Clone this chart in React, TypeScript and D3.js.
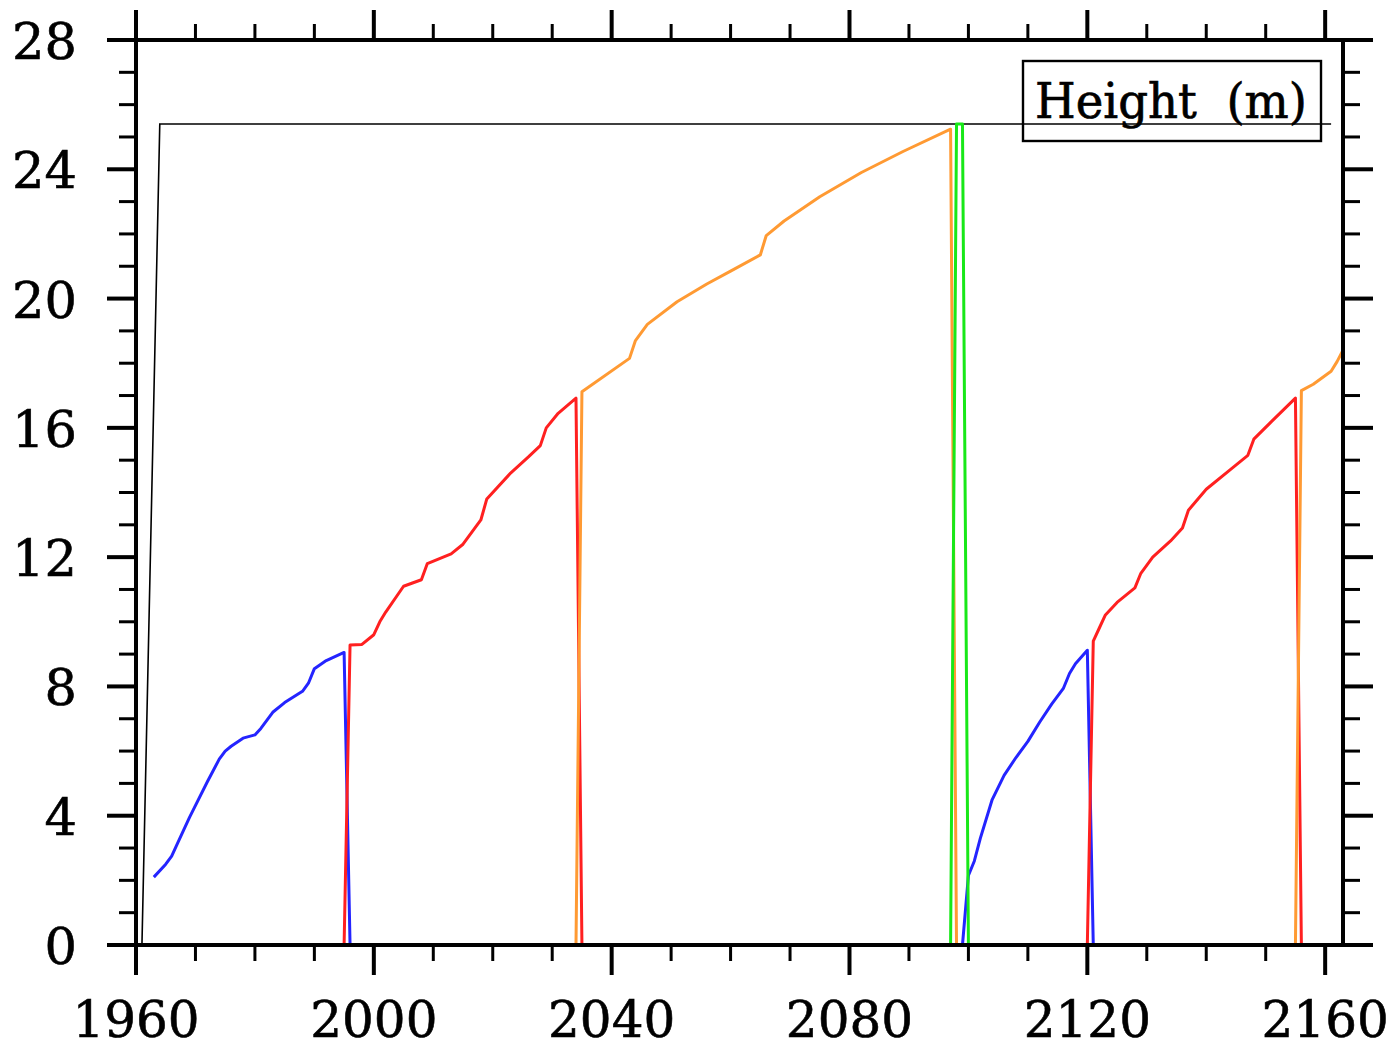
import * as d3 from "d3";

const width = 1400;
const height = 1050;

// [year, height (m)]
const maxLine: [number, number][] = [[1961, 0], [1964, 25.4], [2161, 25.4]];

const blue1: [number, number][] = [
  [1963, 2.1], [1965, 2.5], [1966, 2.75], [1967, 3.15], [1969, 3.95], [1972, 5.05],
  [1974, 5.75], [1975, 6.0], [1976, 6.15], [1978, 6.4], [1980, 6.5], [1981, 6.7], [1983, 7.2],
  [1985, 7.5], [1988, 7.85], [1989, 8.1], [1990, 8.55], [1992, 8.8], [1995, 9.05], [1996, 0],
];

const red1: [number, number][] = [
  [1995, 0], [1996, 9.28], [1998, 9.3], [2000, 9.6], [2001, 10.0], [2002, 10.3],
  [2005, 11.1], [2008, 11.3], [2009, 11.8], [2013, 12.1], [2015, 12.4], [2018, 13.15],
  [2019, 13.8], [2023, 14.6], [2026, 15.1], [2028, 15.45], [2029, 16.0], [2031, 16.45],
  [2034, 16.92], [2035, 0],
];

const orange1: [number, number][] = [
  [2034, 0], [2035, 17.12], [2043, 18.15], [2044, 18.7], [2046, 19.2], [2051, 19.9],
  [2056, 20.45], [2060, 20.85], [2065, 21.35], [2066, 21.95], [2069, 22.4], [2075, 23.15],
  [2082, 23.9], [2089, 24.55], [2097, 25.24], [2098, 0],
];

const green1: [number, number][] = [[2097, 0], [2098, 25.4], [2099, 25.4], [2100, 0]];

const blue2: [number, number][] = [
  [2099, 0], [2100, 2.15], [2101, 2.6], [2102, 3.3], [2104, 4.5], [2106, 5.25],
  [2108, 5.8], [2110, 6.3], [2112, 6.9], [2114, 7.45], [2116, 7.95], [2117, 8.4],
  [2118, 8.7], [2120, 9.12], [2121, 0],
];

const red2: [number, number][] = [
  [2120, 0], [2121, 9.4], [2122, 9.8], [2123, 10.2], [2125, 10.6], [2128, 11.05],
  [2129, 11.5], [2131, 12.0], [2134, 12.5], [2136, 12.9], [2137, 13.45], [2140, 14.1],
  [2144, 14.7], [2147, 15.15], [2148, 15.65], [2151, 16.2], [2155, 16.92], [2156, 0],
];

const orange2: [number, number][] = [
  [2155, 0], [2156, 17.15], [2158, 17.35], [2161, 17.75], [2162, 18.05], [2163, 18.4],
];

const xMajorTicks = [1960, 2000, 2040, 2080, 2120, 2160];
const yMajorTicks = [0, 4, 8, 12, 16, 20, 24, 28];

const series = [
  { data: blue1, color: "#2424ff" },
  { data: red1, color: "#ff2020" },
  { data: orange1, color: "#ff9a33" },
  { data: blue2, color: "#2424ff" },
  { data: red2, color: "#ff2020" },
  { data: orange2, color: "#ff9a33" },
  { data: green1, color: "#18e818" },
];

const left = 136, right = 1343, top = 40, bottom = 945;

const App = () => {
  const x = d3.scaleLinear().domain([1960, 2163]).range([left, right]);
  const y = d3.scaleLinear().domain([0, 28]).range([bottom, top]);
  const line = d3.line<[number, number]>().x(d => x(d[0])).y(d => y(d[1]));

  const xMinor = d3.range(1960, 2164, 10).filter(v => !xMajorTicks.includes(v));
  const yMinor = d3.range(0, 29, 1).filter(v => !yMajorTicks.includes(v));
  const font = "'DejaVu Serif', serif";

  return (
    <svg width={width} height={height} style={{ position: "absolute", left: 0, top: 0, background: "#fff" }}>
      <path d={line(maxLine) || ""} fill="none" stroke="#000" strokeWidth={1.6} />
      {series.map((s, i) => (
        <path key={i} d={line(s.data) || ""} fill="none" stroke={s.color} strokeWidth={3} strokeLinejoin="round" />
      ))}

      {/* legend */}
      <rect x={1023} y={61} width={298} height={80} fill="none" stroke="#000" strokeWidth={2.4} />
      <text x={1035} y={118} fontFamily={font} fontSize={49} textLength={272} lengthAdjust="spacingAndGlyphs"
        stroke="#000" strokeWidth={0.7} style={{ whiteSpace: "pre" }}>Height  (m)</text>

      {/* ticks */}
      <g stroke="#000">
        {xMajorTicks.map(v => (
          <g key={"xm" + v} strokeWidth={4}>
            <line x1={x(v)} x2={x(v)} y1={bottom} y2={bottom + 30} />
            <line x1={x(v)} x2={x(v)} y1={top} y2={top - 30} />
          </g>
        ))}
        {xMinor.map(v => (
          <g key={"xn" + v} strokeWidth={3}>
            <line x1={x(v)} x2={x(v)} y1={bottom} y2={bottom + 16} />
            <line x1={x(v)} x2={x(v)} y1={top} y2={top - 16} />
          </g>
        ))}
        {yMajorTicks.map(v => (
          <g key={"ym" + v} strokeWidth={4}>
            <line x1={left} x2={left - 29} y1={y(v)} y2={y(v)} />
            <line x1={right} x2={right + 30} y1={y(v)} y2={y(v)} />
          </g>
        ))}
        {yMinor.map(v => (
          <g key={"yn" + v} strokeWidth={3}>
            <line x1={left} x2={left - 17} y1={y(v)} y2={y(v)} />
            <line x1={right} x2={right + 17} y1={y(v)} y2={y(v)} />
          </g>
        ))}
      </g>
      <rect x={left} y={top} width={right - left} height={bottom - top} fill="none" stroke="#000" strokeWidth={4} />

      {/* labels */}
      {xMajorTicks.map(v => (
        <text key={"xl" + v} x={x(v)} y={1037} textAnchor="middle" fontFamily={font} fontSize={50}
          stroke="#000" strokeWidth={0.6}>{v}</text>
      ))}
      {yMajorTicks.map(v => (
        <text key={"yl" + v} x={77} y={y(v) + 19} textAnchor="end" fontFamily={font} fontSize={51}
          stroke="#000" strokeWidth={0.6}>{v}</text>
      ))}
    </svg>
  );
};

export default App;
